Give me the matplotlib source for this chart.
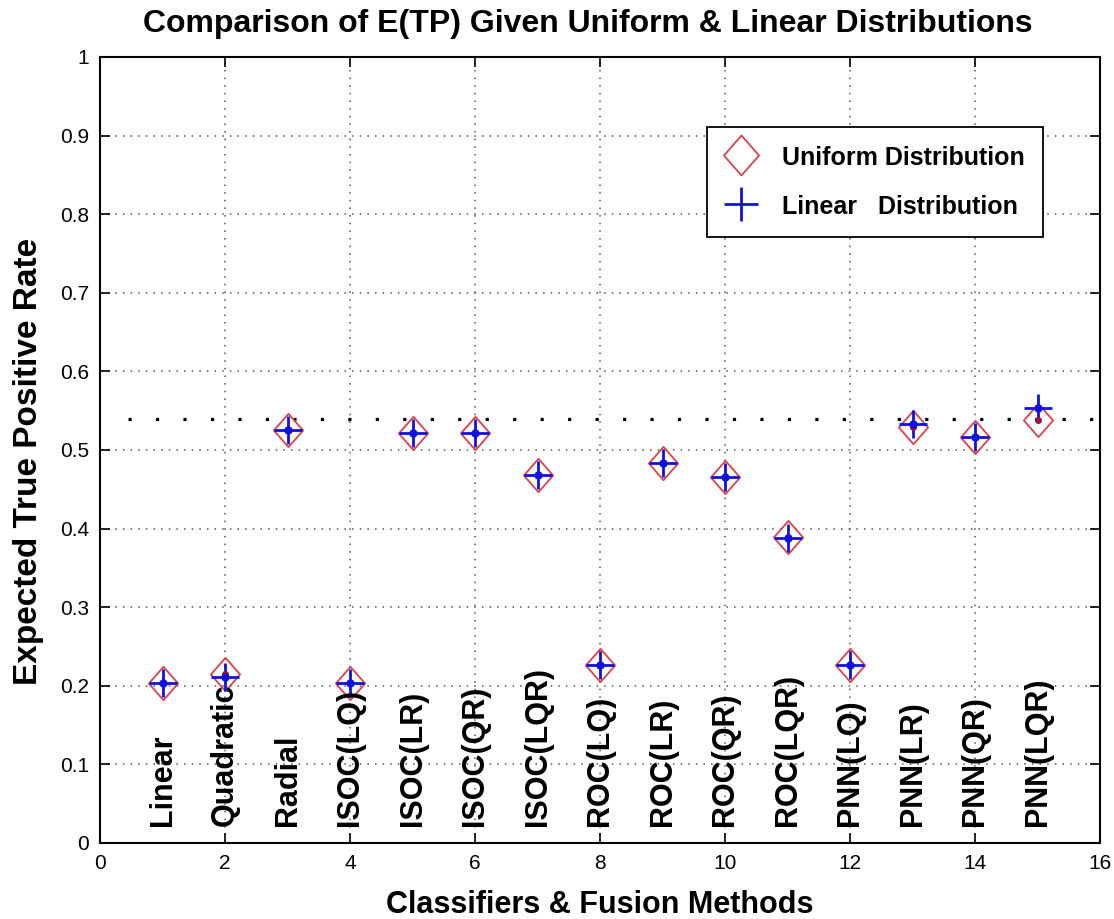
import numpy as np
import matplotlib.pyplot as plt
from matplotlib.path import Path

# --- data ---
methods = ["Linear", "Quadratic", "Radial", "ISOC(LQ)", "ISOC(LR)", "ISOC(QR)",
           "ISOC(LQR)", "ROC(LQ)", "ROC(LR)", "ROC(QR)", "ROC(LQR)",
           "PNN(LQ)", "PNN(LR)", "PNN(QR)", "PNN(LQR)"]
idx = np.arange(1, len(methods) + 1)
uniform = [0.204, 0.215, 0.526, 0.203, 0.521, 0.522, 0.468, 0.227, 0.483,
           0.466, 0.389, 0.227, 0.529, 0.516, 0.538]
linear = [0.204, 0.211, 0.526, 0.203, 0.521, 0.521, 0.468, 0.226, 0.483,
          0.466, 0.388, 0.226, 0.533, 0.517, 0.553]
ref_level = 0.539

plt.rcParams['font.family'] = ['Liberation Sans', 'DejaVu Sans']

fig = plt.figure(figsize=(11.14, 9.19), dpi=100)
ax = fig.add_axes([0.0898, 0.0827, 0.8977, 0.8553])

# tall diamond like the matlab marker
diamond = Path([(0, 1.14), (1, 0), (0, -1.14), (-1, 0), (0, 1.14)],
               [Path.MOVETO, Path.LINETO, Path.LINETO, Path.LINETO, Path.CLOSEPOLY])

ax.hlines(ref_level, 0.44, 16, colors='black', linewidth=2.3,
          linestyles=(0, (1, 7.6)))

ax.plot(idx, uniform, linestyle='none', marker=diamond, markersize=24,
        markerfacecolor='none', markeredgecolor='#e0404a', markeredgewidth=1.3,
        label='Uniform Distribution')
ax.plot(idx, linear, linestyle='none', marker='+', markersize=20,
        color='#1010e0', markeredgewidth=2, label='Linear   Distribution')
ax.plot(idx, uniform, linestyle='none', marker='o', markersize=4,
        color='#a01040')
ax.plot(idx, linear, linestyle='none', marker='o', markersize=5,
        color='#1010e0')

for x, name in zip(idx, methods):
    ax.text(x, 0.022, name, rotation=90, rotation_mode='anchor',
            ha='left', va='center', fontsize=22, fontweight='bold')

ax.set_xlim(0, 16)
ax.set_ylim(0, 1)
ax.set_xticks(np.arange(0, 17, 2))
ax.set_yticks(np.arange(0, 1.01, 0.1))
ax.set_yticklabels(['0'] + [f'{v:.1f}' for v in np.arange(0.1, 1.0, 0.1)] + ['1'])
ax.tick_params(direction='in', length=7, width=1.2, labelsize=15,
               top=True, right=True, pad=8)
ax.grid(True, color='#555555', linestyle=(0, (1, 4)), linewidth=1.1)
for spine in ax.spines.values():
    spine.set_linewidth(1.5)

ax.set_title('Comparison of E(TP) Given Uniform & Linear Distributions',
             fontsize=23, fontweight='bold', pad=18, x=0.488)
ax.set_xlabel('Classifiers & Fusion Methods', fontsize=22, fontweight='bold',
              labelpad=12)
ax.set_ylabel('Expected True Positive Rate', fontsize=24, fontweight='bold',
              labelpad=12)
ax.yaxis.set_label_coords(-0.056, 0.485)

leg = ax.legend(loc='upper right', bbox_to_anchor=(0.943, 0.911),
                borderaxespad=0, fancybox=False, edgecolor='black',
                framealpha=1, prop={'size': 18, 'weight': 'bold'},
                borderpad=0.72, handleheight=1.0, labelspacing=0.98,
                handlelength=1.3, handletextpad=1.0, markerscale=1.2)
leg.get_frame().set_linewidth(1.3)

fig.savefig('out.png', dpi=100)
